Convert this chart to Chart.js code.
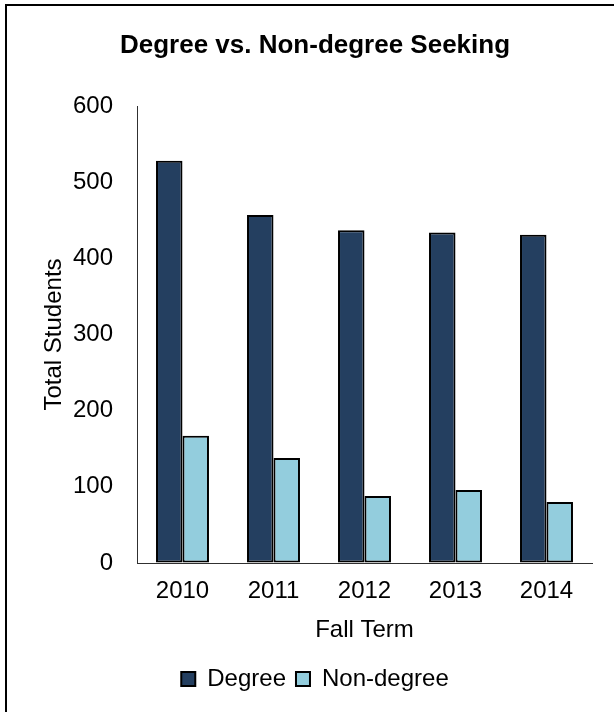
<!DOCTYPE html>
<html><head><meta charset="utf-8">
<script src="https://cdn.jsdelivr.net/npm/chart.js@4"></script>
<style>
html,body{margin:0;padding:0;background:#fff;overflow:hidden;width:614px;height:712px;}
#frame{position:absolute;left:5px;top:4px;width:1000px;height:1000px;border:2px solid #000;}
#c{position:absolute;left:0;top:0;}
</style></head><body>
<div id="frame"></div>
<canvas id="c" width="614" height="712"></canvas>
<script>
const categories = ['2010', '2011', '2012', '2013', '2014'];
const degreeValues = [528, 457, 437, 434, 431];
const nonDegreeValues = [167, 138, 88, 96, 80];
const yTicks = [0, 100, 200, 300, 400, 500, 600];
const seriesNames = ['Degree', 'Non-degree'];
const seriesColors = ['#243F60', '#93CDDD'];

Chart.defaults.font.family = "'Liberation Sans', Arial, sans-serif";
Chart.defaults.color = '#000';

new Chart(document.getElementById('c'), {
  type: 'bar',
  data: {
    labels: categories,
    datasets: [
      { label: seriesNames[0], data: degreeValues, backgroundColor: seriesColors[0], borderColor: '#000', borderWidth: 2, borderSkipped: false, categoryPercentage: 0.582, barPercentage: 1 },
      { label: seriesNames[1], data: nonDegreeValues, backgroundColor: seriesColors[1], borderColor: '#000', borderWidth: 2, borderSkipped: false, categoryPercentage: 0.582, barPercentage: 1 }
    ]
  },
  options: {
    responsive: false,
    animation: false,
    devicePixelRatio: 1,
    layout: { padding: { left: 38, right: 22, top: 0, bottom: 11 } },
    plugins: {
      tooltip: { enabled: false },
      title: {
        display: true,
        text: 'Degree vs. Non-degree Seeking',
        color: '#000',
        font: { size: 26, weight: 'bold' },
        padding: { top: 30.4, bottom: 44.4 }
      },
      legend: {
        position: 'bottom',
        labels: { color: '#000', font: { size: 24 }, boxWidth: 14, boxHeight: 14, padding: 10 }
      }
    },
    scales: {
      x: {
        grid: { display: true, color: 'rgba(0,0,0,0)', drawTicks: false },
        border: { display: true, color: '#303030', width: 1 },
        ticks: { padding: 14, color: '#000', font: { size: 24 } },
        title: { display: true, text: 'Fall Term', color: '#000', font: { size: 24 }, padding: { top: 0, bottom: 12.6 } },
        afterFit: (s) => {
          const lh = (s.chart.legend && s.chart.legend.height) || 44;
          s.height = s.chart.height - 11 - lh - 563;
        }
      },
      y: {
        min: yTicks[0],
        max: yTicks[yTicks.length - 1],
        ticks: { stepSize: yTicks[1] - yTicks[0], padding: 24, color: '#000', font: { size: 24 } },
        grid: { display: true, color: 'rgba(0,0,0,0)', drawTicks: false },
        border: { display: true, color: '#303030', width: 1 },
        title: { display: true, text: 'Total Students', color: '#000', font: { size: 24 }, padding: { top: 1.6, bottom: 0 } },
        afterFit: (s) => { s.width = 99; }
      }
    }
  }
});
</script>
</body></html>
